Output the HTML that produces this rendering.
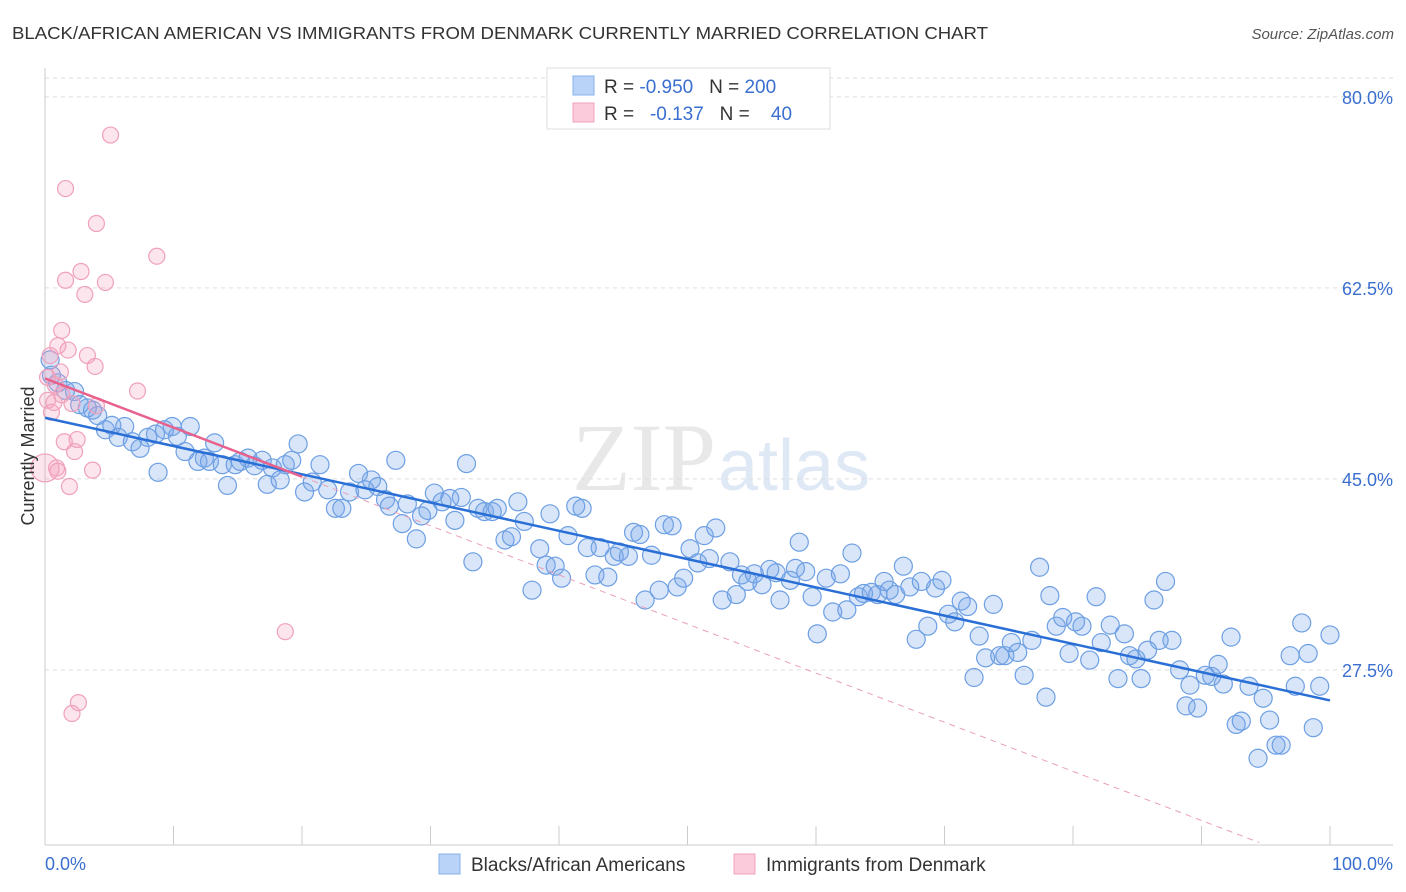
<!DOCTYPE html>
<html><head><meta charset="utf-8"><style>
body{margin:0;background:#fff;font-family:"Liberation Sans",sans-serif;}
svg{display:block}
</style></head><body>
<svg id="chart" width="1406" height="892">
<text x="12" y="39" font-size="17.5" fill="#333" textLength="976" lengthAdjust="spacingAndGlyphs">BLACK/AFRICAN AMERICAN VS IMMIGRANTS FROM DENMARK CURRENTLY MARRIED CORRELATION CHART</text>
<text x="1394" y="39" font-size="15" fill="#555" font-style="italic" text-anchor="end">Source: ZipAtlas.com</text>
<text x="716" y="490" font-size="96" fill="#e8e8e8" font-family="Liberation Serif" text-anchor="end">ZIP</text>
<text x="718" y="490" font-size="72" fill="#dfe8f5">atlas</text>
<g id="grid"></g><g id="axes"></g><g id="pts"></g><g id="lines"></g>
<text x="34" y="456" font-size="18" fill="#333" text-anchor="middle" transform="rotate(-90 34 456)">Currently Married</text>
<g>
<rect x="547" y="68" width="283" height="61" fill="#fff" stroke="#ddd"/>
<rect x="573" y="76" width="21" height="19" fill="#b8d3f7" stroke="#86b0ea"/>
<rect x="573" y="103" width="21" height="19" fill="#fbcadb" stroke="#f0a0bc"/>
<text x="604" y="93" font-size="19" fill="#333" xml:space="preserve">R = <tspan fill="#3a6fd0">-0.950</tspan>   N = <tspan fill="#3a6fd0">200</tspan></text>
<text x="604" y="120" font-size="19" fill="#333" xml:space="preserve">R =   <tspan fill="#3a6fd0">-0.137</tspan>   N =    <tspan fill="#3a6fd0">40</tspan></text>
</g>
<g>
<rect x="439" y="854" width="21" height="20" fill="#b8d3f7" stroke="#86b0ea"/>
<text x="471" y="871" font-size="19" fill="#333">Blacks/African Americans</text>
<rect x="734" y="854" width="21" height="20" fill="#fbcadb" stroke="#f0a0bc"/>
<text x="766" y="871" font-size="19" fill="#333">Immigrants from Denmark</text>
</g>
</svg>
<script>
const blueX=[0.4,0.5,1.0,1.6,2.3,2.7,3.3,3.7,4.1,4.7,5.2,5.7,6.2,6.8,7.4,8.0,8.6,8.8,9.3,9.9,10.3,10.9,11.3,11.9,12.4,12.8,13.2,13.8,14.2,14.8,15.2,15.8,16.3,16.9,17.3,17.7,18.3,18.7,19.2,19.7,20.2,20.8,21.4,22.0,22.6,23.1,23.7,24.4,24.9,25.4,25.9,26.5,26.8,27.3,27.8,28.2,28.9,29.3,29.8,30.3,30.9,31.5,31.9,32.4,32.8,33.3,33.7,34.2,34.8,35.2,35.8,36.3,36.8,37.3,37.9,38.5,39.0,39.3,39.7,40.2,40.7,41.3,41.8,42.2,42.8,43.2,43.8,44.3,44.7,45.4,45.8,46.3,46.7,47.2,47.8,48.2,48.8,49.2,49.7,50.2,50.8,51.3,51.7,52.2,52.7,53.3,53.8,54.2,54.7,55.2,55.8,56.4,56.9,57.2,58.0,58.4,58.7,59.2,59.7,60.1,60.8,61.3,61.9,62.4,62.8,63.3,63.7,64.3,64.8,65.3,65.7,66.2,66.8,67.3,67.8,68.2,68.7,69.3,69.8,70.3,70.8,71.3,71.8,72.3,72.7,73.2,73.8,74.3,74.7,75.2,75.7,76.2,76.8,77.4,77.9,78.2,78.7,79.2,79.7,80.2,80.7,81.3,81.8,82.2,82.9,83.5,84.0,84.4,84.9,85.3,85.8,86.3,86.7,87.2,87.7,88.3,88.8,89.1,89.7,90.3,90.8,91.3,91.7,92.3,92.7,93.1,93.7,94.4,94.8,95.3,95.8,96.2,96.9,97.3,97.8,98.3,98.7,99.2,100.0];
const blueY=[55.9,54.5,53.8,53.1,53.0,51.8,51.5,51.3,50.8,49.5,49.9,48.8,49.8,48.4,47.8,48.8,49.1,45.6,49.5,49.8,48.9,47.5,49.8,46.6,46.9,46.6,48.3,46.3,44.4,46.3,46.6,46.9,46.2,46.7,44.5,46.0,44.9,46.3,46.7,48.2,43.8,44.7,46.3,44.0,42.3,42.3,43.8,45.5,44.0,44.9,44.3,43.1,42.5,46.7,40.9,42.7,39.5,41.6,42.1,43.7,42.9,43.2,41.2,43.3,46.4,37.4,42.3,42.0,42.0,42.3,39.4,39.7,42.9,41.1,34.8,38.6,37.1,41.8,37.0,35.9,39.8,42.5,42.3,38.7,36.2,38.7,36.0,37.9,38.3,37.9,40.1,39.9,33.9,38.0,34.8,40.8,40.7,35.1,35.9,38.6,37.3,39.8,37.7,40.5,33.9,37.4,34.4,36.2,35.6,36.3,35.3,36.7,36.4,33.9,35.7,36.8,39.2,36.5,34.2,30.8,35.9,32.8,36.3,33.0,38.2,34.2,34.5,34.6,34.4,35.6,34.8,34.4,37.0,35.1,30.3,35.6,31.5,35.0,35.7,32.6,31.9,33.8,33.3,26.8,30.6,28.6,33.5,28.8,28.8,30.0,29.1,27.0,30.2,36.9,25.0,34.3,31.5,32.3,29.0,31.9,31.5,28.4,34.2,30.0,31.6,26.7,30.8,28.8,28.5,26.7,29.3,33.9,30.2,35.6,30.2,27.5,24.2,26.1,24.0,27.0,26.9,28.0,26.2,30.5,22.5,22.8,26.0,19.4,24.9,22.9,20.6,20.6,28.8,26.0,31.8,29.0,22.2,26.0,30.7];
const pinkX=[5.1,1.6,4.0,8.7,2.8,1.6,4.7,3.1,1.3,1.0,1.8,0.4,3.3,3.9,1.2,0.2,0.8,7.2,1.3,0.2,0.7,2.1,4.0,0.5,1.5,2.5,2.3,3.7,0.9,1.0,1.9,0.0,18.7,2.6,2.1];
const pinkY=[76.5,71.6,68.4,65.4,64.0,63.2,63.0,61.9,58.6,57.2,56.8,56.3,56.3,55.3,54.8,54.3,53.6,53.05,52.7,52.2,52.0,51.9,51.7,51.1,48.4,48.6,47.5,45.8,46.0,45.7,44.3,46.0,31.0,24.5,23.5];
const yTicks=[80,62.5,45,27.5];
const blueFit=[50.6,24.7];
const pinkFit=[54.2,-0.45];
const NS="http://www.w3.org/2000/svg";
const sx=v=>45+v*12.85, sy=v=>970-v*10.914;
function mk(t,a,p){const e=document.createElementNS(NS,t);for(const k in a)e.setAttribute(k,a[k]);p.appendChild(e);return e;}
const grid=document.getElementById('grid'),axes=document.getElementById('axes'),pts=document.getElementById('pts'),lines=document.getElementById('lines');
let gl=mk('line',{x1:45,x2:1393,y1:78,y2:78,stroke:'#ddd','stroke-dasharray':'4,4'},grid);


yTicks.forEach(t=>{
 const l=mk('line',{x1:45,x2:1393,y1:sy(t),y2:sy(t),stroke:'#ddd','stroke-dasharray':'4,4'},grid);
 
 
 const tx=mk('text',{x:1393,y:sy(t)+7,'font-size':18,fill:'#3a6fd0','text-anchor':'end'},axes);
 tx.textContent=t.toFixed(1)+'%';
 
 
});
let ax=mk('line',{x1:45,x2:45,y1:68,y2:845,stroke:'#ccc'},axes);


let bx=mk('line',{x1:45,x2:1393,y1:845,y2:845,stroke:'#ccc'},axes);


for(let i=0;i<=10;i++){
 const tk=mk('line',{x1:sx(i*10),x2:sx(i*10),y1:826,y2:845,stroke:'#ccc'},axes);
 
 
}
[[0,'0.0%','start',45],[100,'100.0%','end',1393]].forEach(d=>{
 const t=mk('text',{x:d[3],y:870,'font-size':18,fill:'#3a6fd0','text-anchor':d[2]},axes);
 t.textContent=d[1];
 
 
});
blueX.forEach((x,i)=>{
 const c=mk('circle',{cx:sx(x),cy:sy(blueY[i]),r:9,fill:'rgba(120,165,235,0.28)',stroke:'#6d9fe3','stroke-width':1.2},pts);
 
 
});
pinkX.forEach((x,i)=>{
 const c=mk('circle',{cx:sx(x),cy:sy(pinkY[i]),r:(i==31?14:8),fill:'rgba(245,160,190,0.28)',stroke:'#f0a0bc','stroke-width':1.2},pts);
 
 
});
let bl=mk('line',{x1:sx(0),y1:sy(blueFit[0]),x2:sx(100),y2:sy(blueFit[1]),stroke:'#2a6fd6','stroke-width':2.5},lines);


const py=x=>pinkFit[0]+pinkFit[1]*x;
let pl=mk('line',{x1:sx(0),y1:sy(py(0)),x2:sx(20),y2:sy(py(20)),stroke:'#e8608c','stroke-width':2.5},lines);


let pd=mk('line',{x1:sx(20),y1:sy(py(20)),x2:sx(94.5),y2:sy(py(94.5)),stroke:'#eaa0b8','stroke-width':1,'stroke-dasharray':'6,5'},lines);


</script>
</body></html>
